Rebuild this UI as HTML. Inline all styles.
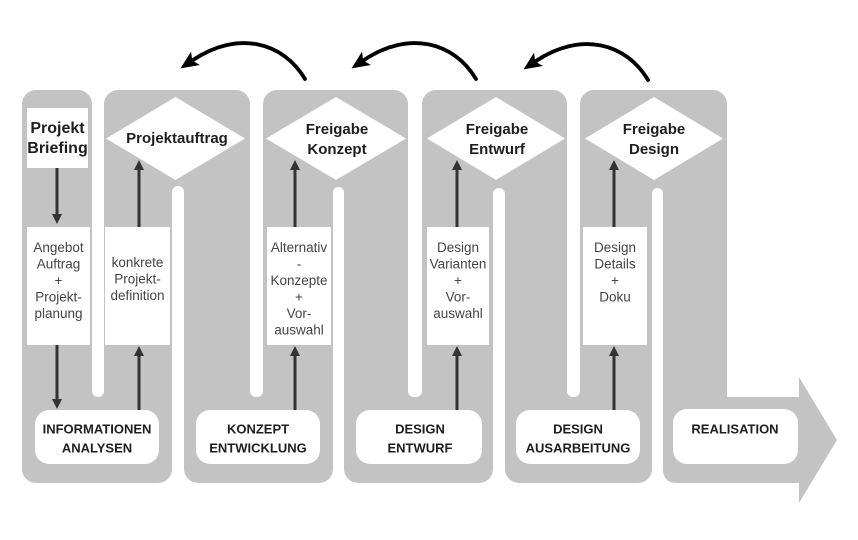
<!DOCTYPE html>
<html>
<head>
<meta charset="utf-8">
<style>
  html,body{margin:0;padding:0;background:#fff;width:858px;height:540px;overflow:hidden;}
  svg{display:block;}
  text{font-family:"Liberation Sans", sans-serif;}
  .b{font-weight:bold;fill:#1e1e1e;}
  .r{fill:#444;font-size:13.5px;}
</style>
</head>
<body>
<svg width="858" height="540" viewBox="0 0 858 540" xmlns="http://www.w3.org/2000/svg">
  <defs>
    <marker id="ah" markerUnits="userSpaceOnUse" markerWidth="24" markerHeight="24" viewBox="0 0 24 24" refX="3" refY="12" orient="auto">
      <path d="M0,4 L18,12 L0,20 L4,12 z" fill="#000"/>
    </marker>
  </defs>
  <rect width="858" height="540" fill="#fff"/>

  <!-- gray serpentine -->
  <g fill="#c3c3c3">
    <rect x="22" y="90" width="70" height="330" rx="14"/>
    <rect x="104" y="90" width="146" height="330" rx="14"/>
    <rect x="263" y="90" width="145" height="330" rx="14"/>
    <rect x="422" y="90" width="145" height="330" rx="14"/>
    <rect x="580" y="90" width="147" height="330" rx="14"/>
    <rect x="22" y="300" width="150" height="183" rx="14"/>
    <rect x="184" y="300" width="149" height="183" rx="14"/>
    <rect x="344" y="300" width="149" height="183" rx="14"/>
    <rect x="505" y="300" width="147" height="183" rx="14"/>
    <path d="M663,397 H799 V377 L837,440 L799,503 V483 H677 Q663,483 663,469 Z"/>
  </g>
  <!-- white slits -->
  <g fill="#fff">
    <rect x="92" y="-20" width="12" height="417" rx="6"/>
    <rect x="250" y="-20" width="13" height="417" rx="6"/>
    <rect x="408" y="-20" width="14" height="417" rx="6"/>
    <rect x="567" y="-20" width="13" height="417" rx="6"/>
    <rect x="172" y="186" width="12" height="340" rx="6"/>
    <rect x="333" y="187" width="11" height="340" rx="5.5"/>
    <rect x="493" y="188" width="12" height="340" rx="6"/>
    <rect x="652" y="188" width="11" height="340" rx="5.5"/>
  </g>

  <!-- diamonds -->
  <g fill="#fff">
    <polygon points="106,138.5 175.5,97 245,138.5 175.5,180"/>
    <polygon points="266,138.5 336,97 406,138.5 336,180"/>
    <polygon points="427,138.5 496,97 565,138.5 496,180"/>
    <polygon points="585,138.5 654,97 723,138.5 654,180"/>
  </g>

  <!-- white boxes -->
  <g fill="#fff">
    <rect x="27" y="108" width="61" height="60"/>
    <rect x="27" y="227" width="63" height="118"/>
    <rect x="105" y="227" width="65" height="118"/>
    <rect x="267" y="227" width="64" height="118"/>
    <rect x="427" y="227" width="62" height="118"/>
    <rect x="583" y="227" width="64" height="118"/>
    <rect x="35" y="410" width="124" height="54" rx="14"/>
    <rect x="196" y="410" width="124" height="54" rx="14"/>
    <rect x="356" y="410" width="126" height="54" rx="14"/>
    <rect x="516" y="410" width="124" height="54" rx="14"/>
    <rect x="673" y="409" width="125" height="55" rx="14"/>
  </g>

  <!-- inner arrows -->
  <g stroke="#333" stroke-width="3" fill="none">
    <line x1="57" y1="168" x2="57" y2="215"/>
    <line x1="57" y1="345" x2="57" y2="400"/>
    <line x1="139" y1="410" x2="139" y2="355"/>
    <line x1="139" y1="227" x2="139" y2="169"/>
    <line x1="295" y1="410" x2="295" y2="355"/>
    <line x1="295" y1="227" x2="295" y2="169"/>
    <line x1="457" y1="410" x2="457" y2="355"/>
    <line x1="457" y1="227" x2="457" y2="169"/>
    <line x1="614" y1="410" x2="614" y2="355"/>
    <line x1="614" y1="227" x2="614" y2="169"/>
  </g>
  <g fill="#333">
    <polygon points="52,214 62,214 57,224"/>
    <polygon points="52,399 62,399 57,409"/>
    <polygon points="134,356 144,356 139,346"/>
    <polygon points="134,170 144,170 139,160"/>
    <polygon points="290,356 300,356 295,346"/>
    <polygon points="290,170 300,170 295,160"/>
    <polygon points="452,356 462,356 457,346"/>
    <polygon points="452,170 462,170 457,160"/>
    <polygon points="609,356 619,356 614,346"/>
    <polygon points="609,170 619,170 614,160"/>
  </g>

  <!-- curved arrows -->
  <g stroke="#000" stroke-width="3.8" fill="none" stroke-linecap="round">
    <path d="M305,79 C283,42 238,30 193,60" marker-end="url(#ah)"/>
    <path d="M476,79 C454,42 409,30 364,60" marker-end="url(#ah)"/>
    <path d="M648,80 C626,43 581,31 536,61" marker-end="url(#ah)"/>
  </g>

  <!-- bold labels -->
  <g class="b" text-anchor="middle">
    <text x="57.5" y="133" font-size="16">Projekt</text>
    <text x="57.5" y="153" font-size="16">Briefing</text>
    <text x="177" y="143" font-size="15">Projektauftrag</text>
    <text x="337" y="134" font-size="15">Freigabe</text>
    <text x="337" y="154" font-size="15">Konzept</text>
    <text x="497" y="134" font-size="15">Freigabe</text>
    <text x="497" y="154" font-size="15">Entwurf</text>
    <text x="654" y="134" font-size="15">Freigabe</text>
    <text x="654" y="154" font-size="15">Design</text>

    <text x="97" y="433.5" font-size="13">INFORMATIONEN</text>
    <text x="97" y="452.5" font-size="13">ANALYSEN</text>
    <text x="258" y="433.5" font-size="13">KONZEPT</text>
    <text x="258" y="452.5" font-size="13">ENTWICKLUNG</text>
    <text x="420" y="433.5" font-size="13">DESIGN</text>
    <text x="420" y="452.5" font-size="13">ENTWURF</text>
    <text x="578" y="433.5" font-size="13">DESIGN</text>
    <text x="578" y="452.5" font-size="13">AUSARBEITUNG</text>
    <text x="735" y="433.5" font-size="13">REALISATION</text>
  </g>

  <!-- regular box labels -->
  <g class="r" text-anchor="middle">
    <text x="58.5" y="252">Angebot</text>
    <text x="58.5" y="268.5">Auftrag</text>
    <text x="58.5" y="285">+</text>
    <text x="58.5" y="301.5">Projekt-</text>
    <text x="58.5" y="318">planung</text>

    <text x="137.5" y="267">konkrete</text>
    <text x="137.5" y="283.5">Projekt-</text>
    <text x="137.5" y="300">definition</text>

    <text x="299" y="252">Alternativ</text>
    <text x="299" y="268.5">-</text>
    <text x="299" y="285">Konzepte</text>
    <text x="299" y="301.5">+</text>
    <text x="299" y="318">Vor-</text>
    <text x="299" y="334.5">auswahl</text>

    <text x="458" y="252">Design</text>
    <text x="458" y="268.5">Varianten</text>
    <text x="458" y="285">+</text>
    <text x="458" y="301.5">Vor-</text>
    <text x="458" y="318">auswahl</text>

    <text x="615" y="252">Design</text>
    <text x="615" y="268.5">Details</text>
    <text x="615" y="285">+</text>
    <text x="615" y="301.5">Doku</text>
  </g>
</svg>
</body>
</html>
